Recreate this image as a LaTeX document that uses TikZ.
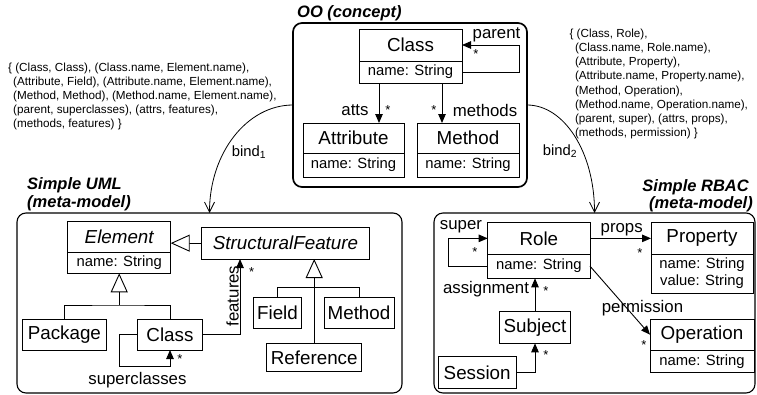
\documentclass[tikz,border=0pt]{standalone}
\usepackage{fontspec}
\setmainfont{Liberation Sans}
\usetikzlibrary{arrows.meta,calc}

\begin{document}
\begin{tikzpicture}[x=1pt,y=-1pt,
  box/.style={draw, line width=0.9pt, inner sep=0pt, outer sep=0pt, anchor=north west, align=center},
  cname/.style={box, font=\fontsize{18.8}{21}\selectfont},
  cattr/.style={box, font=\fontsize{14.8}{17}\selectfont},
  frame/.style={draw, inner sep=0pt, outer sep=0pt, anchor=north west, rounded corners=9pt},
  title/.style={font=\fontsize{16.5}{19}\selectfont\bfseries\itshape, inner sep=0pt},
  lbl/.style={font=\fontsize{16.8}{19}\selectfont, inner sep=0pt},
  mult/.style={font=\fontsize{13}{13}\selectfont, inner sep=0pt},
  note/.style={font=\fontsize{11.7}{14.2}\selectfont, align=left, inner sep=0pt, anchor=north west},
  assoc/.style={line width=0.9pt, -{Triangle[length=9pt,width=7.5pt]}},
  gen/.style={line width=0.9pt, -{Triangle[open,length=19pt,width=17pt,fill=white]}},
  plain/.style={line width=0.9pt},
  bind/.style={line width=0.8pt, -{Straight Barb[length=10pt,width=10pt]}},
]
\fill[white] (0,0) rectangle (757,394);
\useasboundingbox (0,0) rectangle (757,394);

% ---------- package frames ----------
\node[frame, line width=1.7pt, minimum width=234pt, minimum height=164pt] (oobox) at (293,23) {};
\node[frame, line width=1.1pt, minimum width=385pt, minimum height=180pt] (umlbox) at (17,213) {};
\node[frame, line width=1.1pt, minimum width=321pt, minimum height=180pt] (rbacbox) at (434,213) {};

\node[title, anchor=west] (ootitle) at (297,13) {OO (concept)};
\node[title, anchor=west] (umlt1) at (27,185) {Simple UML};
\node[title, anchor=west] (umlt2) at (27,203) {(meta-model)};
\node[title, anchor=east] (rbt1) at (749,187) {Simple RBAC};
\node[title, anchor=east] (rbt2) at (753,204) {(meta-model)};

% ---------- OO concept ----------
\node[cname, minimum width=103pt, minimum height=32pt] (ooclass) at (359,29) {Class};
\node[cattr, minimum width=103pt, minimum height=22pt] (ooclassA) at (359,61) {name: String};
\node[cname, minimum width=101pt, minimum height=30pt] (ooatt) at (303,123) {Attribute};
\node[cattr, minimum width=101pt, minimum height=24pt] (ooattA) at (303,153) {name: String};
\node[cname, minimum width=102pt, minimum height=30pt] (oometh) at (417,123) {Method};
\node[cattr, minimum width=102pt, minimum height=24pt] (oomethA) at (417,153) {name: String};

\draw[assoc] (ooclassA.east) -- ++(57,0) |- (ooclass.east);
\draw[assoc] ([xshift=-31.5pt]ooclassA.south) -- ([xshift=-31.5pt]ooclassA.south |- ooatt.north);
\draw[assoc] ([xshift=31.5pt]ooclassA.south) -- ([xshift=31.5pt]ooclassA.south |- oometh.north);

\node[lbl] (lparent) at (496.5,35) {parent};
\node[mult] (mparent) at (476,54.5) {*};
\node[lbl] (latts) at (355,110) {atts};
\node[mult] (matts) at (388,110.5) {*};
\node[mult] (mmeth) at (434,110.5) {*};
\node[lbl] (lmeth) at (485,110) {methods};

% ---------- Simple UML ----------
\node[cname, font=\fontsize{18.8}{21}\selectfont\itshape, minimum width=103pt, minimum height=31pt] (elem) at (67.7,221) {Element};
\node[cattr, minimum width=103pt, minimum height=21.3pt] (elemA) at (67.7,252) {name: String};
\node[cname, font=\fontsize{18.8}{21}\selectfont\itshape, minimum width=167.6pt, minimum height=31.7pt] (sf) at (201.7,227.3) {StructuralFeature};
\node[cname, minimum width=83.3pt, minimum height=30.7pt] (pack) at (22.7,319.3) {Package};
\node[cname, minimum width=65.4pt, minimum height=30.7pt] (uclass) at (137.3,319.3) {Class};
\node[cname, minimum width=48.4pt, minimum height=31pt] (field) at (253.3,297.3) {Field};
\node[cname, minimum width=70pt, minimum height=31pt] (umeth) at (324,297.3) {Method};
\node[cname, minimum width=95pt, minimum height=28.4pt] (ref) at (266.7,343.3) {Reference};

\coordinate (ujoin) at ([yshift=-31.7pt]elemA.south);
\draw[plain] (pack.north) |- (ujoin) -| (uclass.north);
\draw[gen] (ujoin) -- (elemA.south);
\draw[gen] (sf.west) -- (sf.west -| elem.east);
\coordinate (sfjoin) at ([yshift=56pt]ref.north);
\draw[plain] (field.north) |- (sfjoin) -| (umeth.north);
\draw[gen] (ref.north) -- (ref.north |- sf.south);
\draw[assoc] (uclass.east) -| ([xshift=38.3pt]sf.south west);
\draw[assoc] (uclass.west) -- ++(-18.3,0) -- ++(0,32) -| (uclass.south);

\node[lbl, rotate=90, anchor=south] (lfeat) at (239,296) {features};
\node[mult] (mfeat) at (251.7,272.5) {*};
\node[lbl] (lsupc) at (137.4,380) {superclasses};
\node[mult] (msupc) at (180,359.5) {*};

% ---------- Simple RBAC ----------
\node[cname, minimum width=102.3pt, minimum height=31.3pt] (role) at (487.7,222.7) {Role};
\node[cattr, minimum width=102.3pt, minimum height=24.3pt] (roleA) at (487.7,254) {name: String};
\node[cname, minimum width=102pt, minimum height=31.3pt] (prop) at (651,222.7) {Property};
\node[cattr, minimum width=102pt, minimum height=39.3pt] (propA) at (651,254) {name: String\\value: String};
\node[cname, minimum width=104pt, minimum height=30.7pt] (op) at (650,319.3) {Operation};
\node[cattr, minimum width=104pt, minimum height=22.7pt] (opA) at (650,350) {name: String};
\node[cname, minimum width=71.4pt, minimum height=32.3pt] (subj) at (499.3,311) {Subject};
\node[cname, minimum width=77.7pt, minimum height=31.6pt] (sess) at (438.3,356.7) {Session};

\draw[assoc] (roleA.west) -- ++(-39.4,0) |- (role.west);
\draw[assoc] (role.east) -- (prop.west);
\draw[assoc] (roleA.east) -- (op.west);
\draw[assoc] (subj.north) -- (subj.north |- roleA.south);
\draw[assoc] (sess.east) -| (subj.south);

\node[lbl] (lsuper) at (461,227) {super};
\node[mult] (msuper) at (475,252.5) {*};
\node[lbl] (lprops) at (621.7,230) {props};
\node[mult] (mprops) at (640,253.5) {*};
\node[lbl] (lassign) at (486,289) {assignment};
\node[mult] (massign) at (546,291.5) {*};
\node[lbl] (lperm) at (642.5,308) {permission};
\node[mult] (mperm) at (644,345.5) {*};
\node[mult] (msess) at (546,355.5) {*};

% ---------- bindings ----------
\draw[bind] (oobox.west) .. controls +(-46,0) and +(0,-60) .. (umlbox.north);
\draw[bind] (oobox.east) .. controls +(37,0) and +(0,-61) .. (rbacbox.north);
\node[lbl, font=\fontsize{14.8}{17}\selectfont] (lbind1) at (249,152) {bind\textsubscript{1}};
\node[lbl, font=\fontsize{14.8}{17}\selectfont] (lbind2) at (560,151) {bind\textsubscript{2}};

\node[note] (map1) at (8,62.5) {\{ (Class, Class), (Class.name, Element.name),\\
\hspace*{5pt}(Attribute, Field), (Attribute.name, Element.name),\\
\hspace*{5pt}(Method, Method), (Method.name, Element.name),\\
\hspace*{5pt}(parent, superclasses), (attrs, features),\\
\hspace*{5pt}(methods, features) \}};
\node[note] (map2) at (569.3,28.7) {\{ (Class, Role),\\
\hspace*{5.5pt}(Class.name, Role.name),\\
\hspace*{5.5pt}(Attribute, Property),\\
\hspace*{5.5pt}(Attribute.name, Property.name),\\
\hspace*{5.5pt}(Method, Operation),\\
\hspace*{5.5pt}(Method.name, Operation.name),\\
\hspace*{5.5pt}(parent, super), (attrs, props),\\
\hspace*{5.5pt}(methods, permission) \}};
\end{tikzpicture}
\end{document}
